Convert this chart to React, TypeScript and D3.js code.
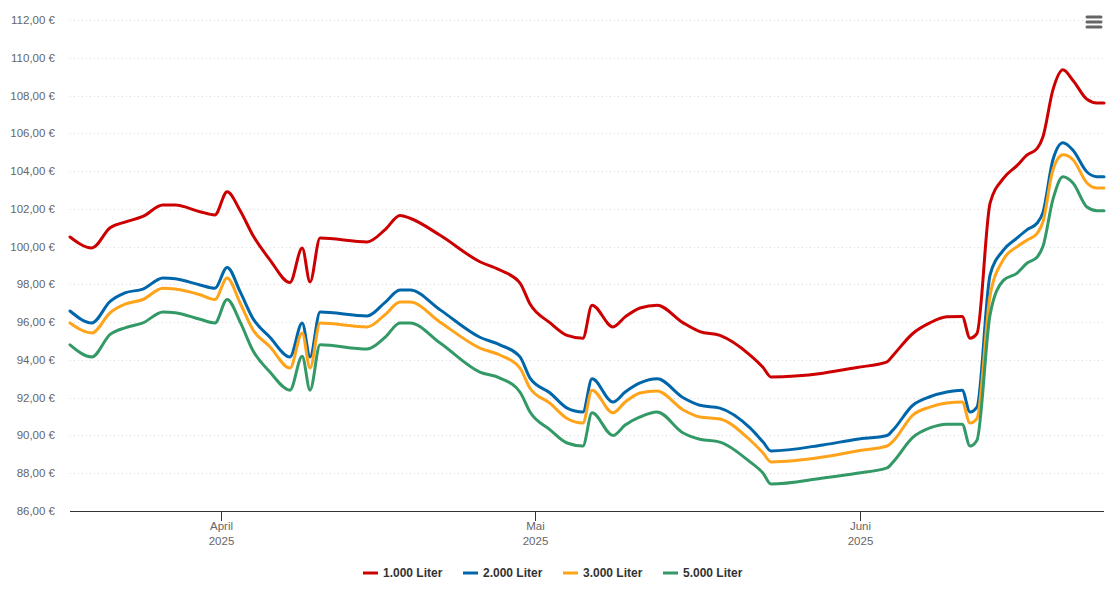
import React, { useMemo } from 'react';
import * as d3 from 'd3';

// sample timestamps (UTC) shared by all series
const dates = [
  '2025-03-17T14:00', '2025-03-19T16:00', '2025-03-21T10:00', '2025-03-22T20:00', '2025-03-24T13:00',
  '2025-03-26T11:00', '2025-03-27T15:00', '2025-03-30T00:00', '2025-03-31T10:00', '2025-04-01T14:00',
  '2025-04-02T20:00', '2025-04-04T01:00', '2025-04-05T16:00', '2025-04-07T14:00', '2025-04-08T18:00',
  '2025-04-09T12:00', '2025-04-10T11:00', '2025-04-14T23:00', '2025-04-16T16:00', '2025-04-18T02:00',
  '2025-04-19T01:00', '2025-04-21T22:00', '2025-04-25T17:00', '2025-04-27T15:00', '2025-04-29T13:00',
  '2025-04-30T12:00', '2025-05-02T10:00', '2025-05-04T01:00', '2025-05-05T13:00', '2025-05-06T10:00',
  '2025-05-08T10:00', '2025-05-09T14:00', '2025-05-11T00:00', '2025-05-12T15:00', '2025-05-15T03:00',
  '2025-05-16T17:00', '2025-05-18T15:00', '2025-05-21T12:00', '2025-05-22T18:00', '2025-05-23T12:00',
  '2025-05-28T11:00', '2025-05-31T17:00', '2025-06-03T14:00', '2025-06-04T04:00', '2025-06-06T01:00',
  '2025-06-07T16:00', '2025-06-09T07:00', '2025-06-10T18:00', '2025-06-11T12:00', '2025-06-12T04:00',
  '2025-06-13T10:00', '2025-06-14T16:00', '2025-06-16T00:00', '2025-06-16T23:00', '2025-06-17T22:00',
  '2025-06-18T11:00', '2025-06-19T10:00', '2025-06-20T09:00', '2025-06-21T08:00', '2025-06-22T16:00',
  '2025-06-23T15:00', '2025-06-24T07:00'
];

const liter1000 = [
  100.51, 99.93, 101.0, 101.3, 101.6, 102.2, 102.2, 101.85, 101.68, 102.9,
  101.9, 100.6, 99.3, 98.1, 99.93, 98.13, 100.46, 100.25, 100.9, 101.65,
  101.5, 100.6, 99.2, 98.76, 98.07, 96.96, 95.96, 95.3, 95.15, 96.9,
  95.75, 96.28, 96.75, 96.9, 95.96, 95.5, 95.3, 94.26, 93.6, 93.1,
  93.3, 93.6, 93.9, 94.25, 95.4, 95.96, 96.28, 96.3, 95.15, 95.4,
  102.3, 103.6, 104.3, 104.86, 105.2, 105.8, 108.3, 109.36, 108.8, 107.8,
  107.6, 107.6
];

const liter2000 = [
  96.59, 95.96, 97.1, 97.55, 97.75, 98.34, 98.3, 97.97, 97.8, 98.9,
  97.6, 96.2, 95.2, 94.16, 95.96, 94.16, 96.54, 96.33, 97.05, 97.7,
  97.7, 96.65, 95.2, 94.8, 94.16, 93.04, 92.25, 91.45, 91.24, 93.0,
  91.77, 92.3, 92.78, 93.0, 92.0, 91.6, 91.45, 90.4, 89.65, 89.18,
  89.5, 89.8, 90.0, 90.3, 91.6, 92.05, 92.3, 92.4, 91.24, 91.5,
  98.5, 99.8, 100.46, 100.9, 101.25, 101.8, 104.6, 105.5, 105.1, 103.95,
  103.7, 103.7
];

const liter3000 = [
  95.96, 95.43, 96.5, 96.95, 97.2, 97.8, 97.75, 97.45, 97.2, 98.34,
  97.0, 95.6, 94.7, 93.57, 95.43, 93.57, 95.96, 95.75, 96.4, 97.07,
  97.07, 96.0, 94.63, 94.26, 93.57, 92.5, 91.7, 90.9, 90.66, 92.4,
  91.2, 91.77, 92.25, 92.36, 91.35, 90.98, 90.87, 89.76, 89.07, 88.6,
  88.86, 89.18, 89.44, 89.7, 91.08, 91.5, 91.72, 91.77, 90.66, 90.9,
  97.4, 99.3, 100.0, 100.35, 100.7, 101.3, 104.06, 104.86, 104.6, 103.37,
  103.1, 103.1
];

const liter5000 = [
  94.8, 94.16, 95.35, 95.7, 95.96, 96.54, 96.5, 96.15, 95.96, 97.2,
  96.0, 94.5, 93.36, 92.4, 94.2, 92.4, 94.8, 94.58, 95.2, 95.96,
  95.96, 94.9, 93.36, 93.04, 92.3, 91.24, 90.3, 89.6, 89.44, 91.2,
  90.0, 90.55, 90.98, 91.24, 90.13, 89.8, 89.65, 88.6, 88.0, 87.43,
  87.75, 88.0, 88.28, 88.6, 89.9, 90.4, 90.6, 90.6, 89.44, 89.75,
  96.4, 98.2, 98.6, 99.13, 99.45, 100.0, 102.5, 103.7, 103.37, 102.1,
  101.9, 101.9
];

const seriesNames = ['1.000 Liter', '2.000 Liter', '3.000 Liter', '5.000 Liter'];
const seriesValues = [liter1000, liter2000, liter3000, liter5000];
const seriesColors = ['#cc0000', '#0066aa', '#ffa31a', '#339966'];

const yTicks = [86, 88, 90, 92, 94, 96, 98, 100, 102, 104, 106, 108, 110, 112];
const monthNames = ['Januar', 'Februar', 'März', 'April', 'Mai', 'Juni', 'Juli', 'August', 'September', 'Oktober', 'November', 'Dezember'];

const width = 1115;
const height = 608;
const margin = { top: 20, right: 11, bottom: 97, left: 70 };

const parseDate = d3.utcParse('%Y-%m-%dT%H:%M');

const formatEuro = (v) => v.toFixed(2).replace('.', ',') + ' €';

const App = () => {
  const innerWidth = width - margin.left - margin.right;
  const innerHeight = height - margin.top - margin.bottom;

  const { xScale, yScale, paths, monthTicks } = useMemo(() => {
    const parsed = dates.map(d => parseDate(d));
    const xScale = d3.scaleUtc()
      .domain(d3.extent(parsed))
      .range([0, innerWidth]);
    const yScale = d3.scaleLinear()
      .domain([86, 112])
      .range([innerHeight, 0]);

    const line = d3.line()
      .x(d => xScale(d[0]))
      .y(d => yScale(d[1]))
      .curve(d3.curveMonotoneX);

    const paths = seriesValues.map(vals => line(vals.map((v, i) => [parsed[i], v])));
    const monthTicks = xScale.ticks(d3.utcMonth.every(1));

    return { xScale, yScale, paths, monthTicks };
  }, [innerWidth, innerHeight]);

  const legendStep = 100;
  const legendStart = 363;

  return (
    <svg
      width={width}
      height={height}
      style={{ position: 'absolute', left: 0, top: 0, fontFamily: '"Liberation Sans", Arial, Helvetica, sans-serif', background: '#fff' }}
    >
      <g transform={`translate(${margin.left}, ${margin.top})`}>
        {/* Grid lines */}
        {yTicks.map(tick => (
          <line
            key={`g-${tick}`}
            x1={0}
            x2={innerWidth}
            y1={Math.round(yScale(tick)) + 0.5}
            y2={Math.round(yScale(tick)) + 0.5}
            stroke="#dcdcdc"
            strokeWidth={1}
            strokeDasharray="1,3"
          />
        ))}

        {/* Y-axis labels */}
        {yTicks.map(tick => (
          <text
            key={`y-${tick}`}
            x={-15}
            y={yScale(tick) + 4}
            textAnchor="end"
            fill="#666666"
            style={{ fontSize: '11.5px' }}
          >
            {formatEuro(tick)}
          </text>
        ))}

        {/* Series */}
        {paths.map((p, i) => (
          <path
            key={seriesNames[i]}
            d={p}
            fill="none"
            stroke={seriesColors[i]}
            strokeWidth={3}
            strokeLinejoin="round"
            strokeLinecap="round"
          />
        ))}

        {/* X axis */}
        <line x1={0} x2={innerWidth} y1={innerHeight + 0.5} y2={innerHeight + 0.5} stroke="#333333" strokeWidth={1} />
        {monthTicks.map(t => (
          <g key={t.toISOString()} transform={`translate(${Math.round(xScale(t)) + 0.5}, ${innerHeight})`}>
            <line y1={0} y2={10} stroke="#333333" strokeWidth={1} />
            <text y={19} textAnchor="middle" fill="#666666" style={{ fontSize: '11.5px' }}>
              {monthNames[t.getUTCMonth()]}
            </text>
            <text y={34} textAnchor="middle" fill="#666666" style={{ fontSize: '11.5px' }}>
              {t.getUTCFullYear()}
            </text>
          </g>
        ))}
      </g>

      {/* Legend */}
      <g transform={`translate(${legendStart}, 573)`}>
        {seriesNames.map((name, i) => (
          <g key={name} transform={`translate(${i * legendStep}, 0)`}>
            <line x1={0} x2={15} y1={0} y2={0} stroke={seriesColors[i]} strokeWidth={3} />
            <text x={20} y={4} fill="#333333" style={{ fontSize: '12px', fontWeight: 'bold' }}>
              {name}
            </text>
          </g>
        ))}
      </g>

      {/* Context menu icon */}
      <g stroke="#666666" strokeWidth={3} strokeLinecap="round">
        <line x1={1087} x2={1101} y1={17} y2={17} />
        <line x1={1087} x2={1101} y1={22} y2={22} />
        <line x1={1087} x2={1101} y1={27} y2={27} />
      </g>
    </svg>
  );
};

export default App;
